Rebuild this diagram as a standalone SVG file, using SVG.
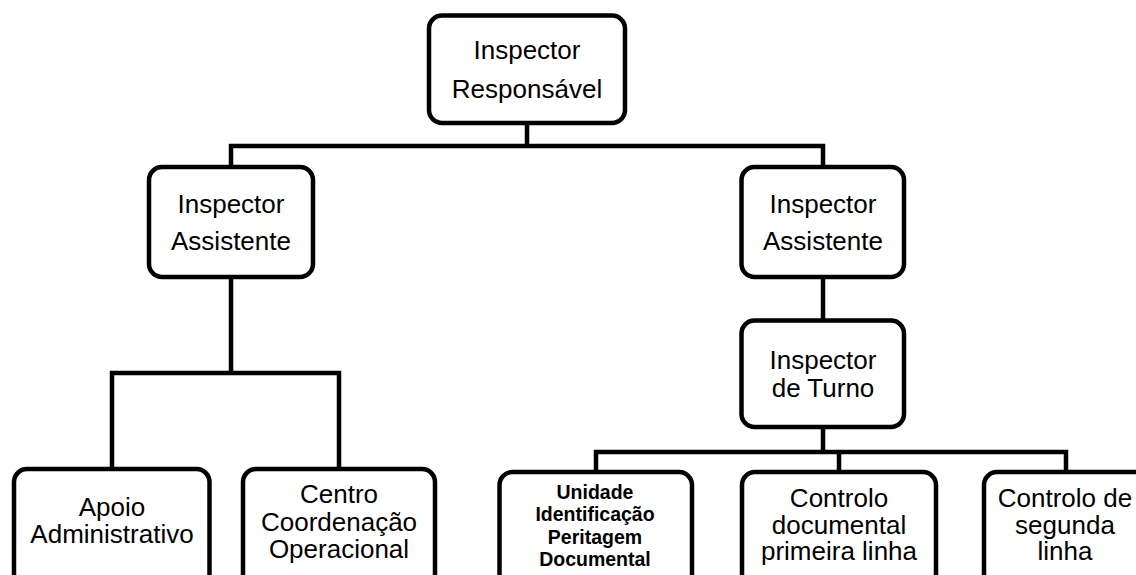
<svg xmlns="http://www.w3.org/2000/svg" width="1136" height="575" viewBox="0 0 1136 575">
<style>
.box{fill:#fff;stroke:#000;stroke-width:4.5}
.t{font-family:"Liberation Sans",Arial,sans-serif;font-size:26px;fill:#000;text-anchor:middle}
.b{font-family:"Liberation Sans",Arial,sans-serif;font-size:19.5px;font-weight:bold;fill:#000;text-anchor:middle}
.c{fill:none;stroke:#000;stroke-width:4.5;stroke-linejoin:miter;stroke-linecap:square}
</style>
<rect width="1136" height="575" fill="#fff"/>
<g id="connectors">
<path class="c" d="M527 123V146M231 166V146H823V166"/>
<path class="c" d="M231 277V373M112 469V373H339V469"/>
<path class="c" d="M823 277V320"/>
<path class="c" d="M823 427V452M596 472V452H1066V472M839 452V472"/>
</g>
<g id="n-responsavel">
<rect class="box" x="429" y="15.5" width="196" height="107.5" rx="13"/>
<text class="t" x="527" y="59">Inspector</text>
<text class="t" x="527" y="98">Responsável</text>
</g>
<g id="n-assistente-left">
<rect class="box" x="149" y="167" width="164" height="110" rx="13"/>
<text class="t" x="231" y="213">Inspector</text>
<text class="t" x="231" y="250">Assistente</text>
</g>
<g id="n-assistente-right">
<rect class="box" x="741.5" y="167" width="162.5" height="110" rx="13"/>
<text class="t" x="823" y="213">Inspector</text>
<text class="t" x="823" y="250">Assistente</text>
</g>
<g id="n-turno">
<rect class="box" x="741.5" y="320.5" width="162.5" height="106.5" rx="13"/>
<text class="t" x="823" y="369">Inspector</text>
<text class="t" x="823" y="397">de Turno</text>
</g>
<g id="n-apoio">
<rect class="box" x="14" y="469" width="195.5" height="130" rx="13"/>
<text class="t" x="112" y="516">Apoio</text>
<text class="t" x="112" y="543">Administrativo</text>
</g>
<g id="n-centro">
<rect class="box" x="243" y="469" width="192" height="130" rx="13"/>
<text class="t" x="339" y="503">Centro</text>
<text class="t" x="339" y="531">Coordenação</text>
<text class="t" x="339" y="558">Operacional</text>
</g>
<g id="n-unidade">
<rect class="box" x="499.5" y="472" width="192.5" height="130" rx="13"/>
<text class="b" x="595" y="499">Unidade</text>
<text class="b" x="595" y="521">Identificação</text>
<text class="b" x="595" y="544">Peritagem</text>
<text class="b" x="595" y="566">Documental</text>
</g>
<g id="n-controlo1">
<rect class="box" x="742" y="472" width="194" height="130" rx="13"/>
<text class="t" x="839" y="507">Controlo</text>
<text class="t" x="839" y="534">documental</text>
<text class="t" x="839" y="560">primeira linha</text>
</g>
<g id="n-controlo2">
<rect class="box" x="984" y="472" width="164" height="130" rx="13"/>
<text class="t" x="1065" y="507">Controlo de</text>
<text class="t" x="1065" y="534">segunda</text>
<text class="t" x="1065" y="560">linha</text>
</g>
</svg>
